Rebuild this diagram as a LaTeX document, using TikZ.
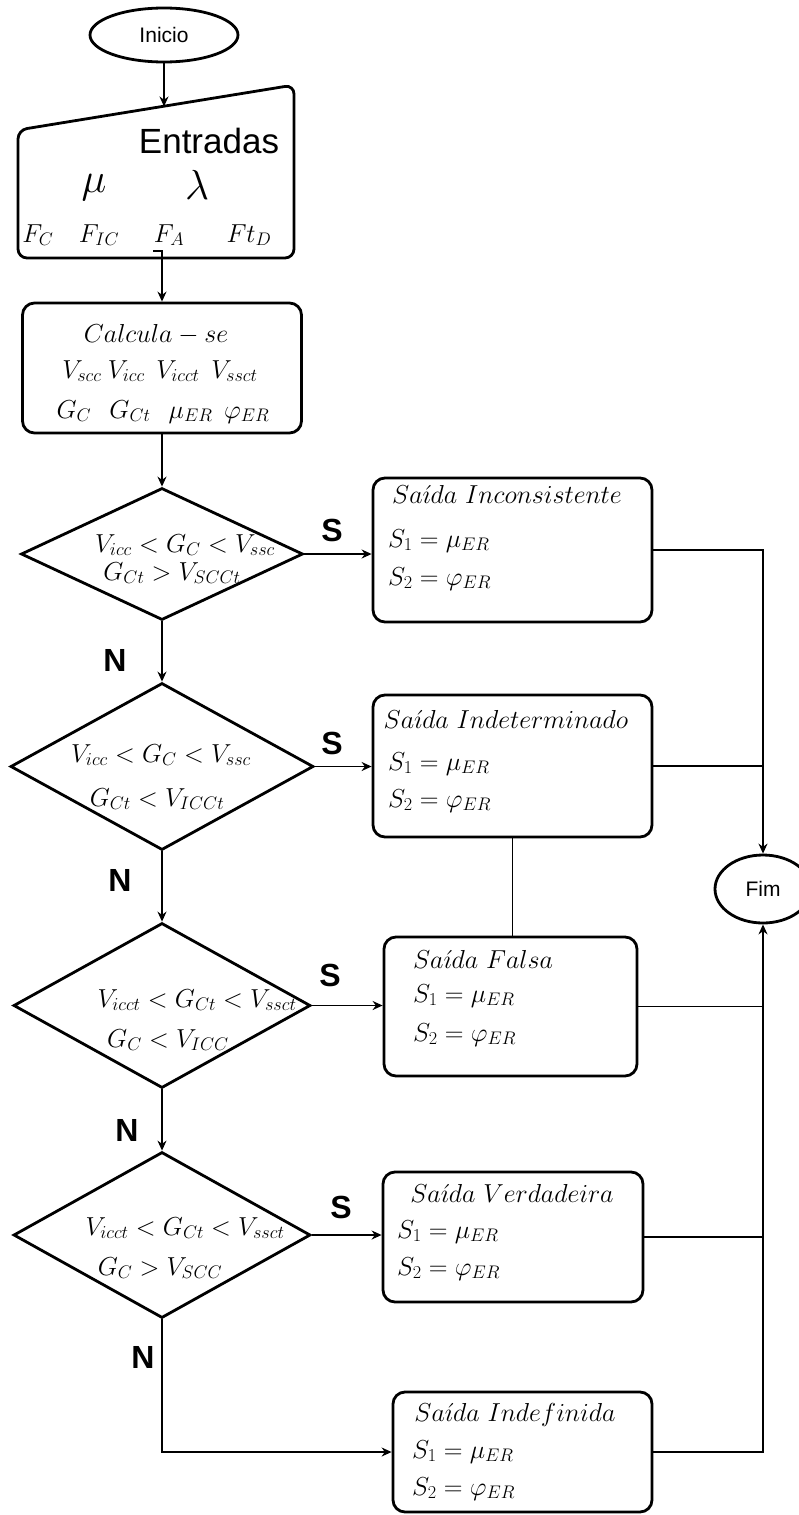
\RequirePackage{fix-cm}
\documentclass[tikz,border=0pt]{standalone}
\usepackage{fontspec}
\newfontfamily\arialf{Liberation Sans}
\usetikzlibrary{shapes.geometric,arrows.meta}
\begin{document}
\begin{tikzpicture}[x=1pt,y=-1pt,
  shp/.style={draw, line width=2.8pt},
  term/.style={shp, ellipse, inner sep=0pt, font=\arialf\fontsize{21}{24}\selectfont},
  box/.style={shp, rectangle, rounded corners=12pt, inner sep=0pt},
  dec/.style={shp, diamond, inner sep=0pt},
  conn/.style={line width=1.4pt},
  arr/.style={conn, -{Stealth[length=10pt,width=9pt]}},
  mt/.style={inner sep=0pt, anchor=base, font=\fontsize{26}{30}\selectfont},
  mtl/.style={mt, anchor=base west},
  yn/.style={font=\arialf\bfseries\fontsize{32}{36}\selectfont, inner sep=0pt}
]
\useasboundingbox (0,0) rectangle (799,1515);

% start
\node[term, minimum width=148pt, minimum height=54pt] (ini) at (164,35) {Inicio};

% inputs (manual input shape)
\draw[shp, rounded corners=9pt] (156,258) -- (18,258) -- (18,130) -- (294,85) -- (294,258) -- cycle;
\coordinate (entTop) at (164,106.5);
\coordinate (entHook) at (153,251);
\coordinate (entBot) at (162,251);
\node[inner sep=0pt, anchor=base, font=\arialf\fontsize{35}{40}\selectfont] (entlbl) at (209,153) {Entradas};
\node[mt, font=\fontsize{42}{46}\selectfont] (mu) at (94,192) {$\mu$};
\node[mt, font=\fontsize{42}{46}\selectfont] (lam) at (197,199) {$\lambda$};
\node[mt] (fc) at (38,242) {$F_C$};
\node[mt] (fic) at (99,242) {$F_{IC}$};
\node[mt] (fa) at (169,242) {$F_A$};
\node[mt] (ftd) at (249,242) {$Ft_D$};

% calc
\node[box, minimum width=279pt, minimum height=130pt] (calc) at (162,368) {};
\node[mt] (c1) at (156,342) {$Calcula - se$};
\node[mt] (c2) at (160,378) {$V_{scc}\hspace{0.25em}V_{icc}\hspace{0.45em}V_{icct}\hspace{0.45em}V_{ssct}$};
\node[mt] (c3) at (163,418) {$G_C\hspace{0.7em}G_{Ct}\hspace{0.7em}\mu_{ER}\hspace{0.45em}\varphi_{ER}$};

% decisions
\node[dec, minimum width=282pt, minimum height=132pt] (d1) at (162,554) {};
\node[dec, minimum width=303pt, minimum height=167pt] (d2) at (162,766.5) {};
\node[dec, minimum width=297pt, minimum height=165pt] (d3) at (162,1005.5) {};
\node[dec, minimum width=297pt, minimum height=166pt] (d4) at (162,1235) {};

\node[mt] (d1a) at (185,552) {$V_{icc} < G_C < V_{ssc}$};
\node[mt] (d1b) at (172,580) {$G_{Ct} > V_{SCCt}$};
\node[mt] (d2a) at (161,762) {$V_{icc} < G_C < V_{ssc}$};
\node[mt] (d2b) at (157,806) {$G_{Ct} < V_{ICCt}$};
\node[mt] (d3a) at (197,1007) {$V_{icct} < G_{Ct} < V_{ssct}$};
\node[mt] (d3b) at (168,1047) {$G_C < V_{ICC}$};
\node[mt] (d4a) at (185,1235) {$V_{icct} < G_{Ct} < V_{ssct}$};
\node[mt] (d4b) at (160,1275) {$G_C > V_{SCC}$};

% outputs
\node[box, minimum width=279pt, minimum height=144pt] (b1) at (512.5,550) {};
\node[box, minimum width=279pt, minimum height=142pt] (b2) at (512.5,766) {};
\node[box, minimum width=253pt, minimum height=139pt] (b3) at (510.5,1006.5) {};
\node[box, minimum width=260pt, minimum height=130pt] (b4) at (513,1237) {};
\node[box, minimum width=259pt, minimum height=120pt] (b5) at (522.5,1452) {};

\node[mt] (t1) at (507,503) {$Sa\acute{\imath}da\ Inconsistente$};
\node[mtl] (s11) at (388,547) {$S_1 = \mu_{ER}$};
\node[mtl] (s12) at (388,585) {$S_2 = \varphi_{ER}$};
\node[mt] (t2) at (506,728) {$Sa\acute{\imath}da\ Indeterminado$};
\node[mtl] (s21) at (388,770) {$S_1 = \mu_{ER}$};
\node[mtl] (s22) at (388,807) {$S_2 = \varphi_{ER}$};
\node[mt] (t3) at (483,968) {$Sa\acute{\imath}da\ Falsa$};
\node[mtl] (s31) at (413,1002) {$S_1 = \mu_{ER}$};
\node[mtl] (s32) at (413,1041) {$S_2 = \varphi_{ER}$};
\node[mt] (t4) at (512,1202) {$Sa\acute{\imath}da\ Verdadeira$};
\node[mtl] (s41) at (397,1238) {$S_1 = \mu_{ER}$};
\node[mtl] (s42) at (397,1275) {$S_2 = \varphi_{ER}$};
\node[mt] (t5) at (515,1421) {$Sa\acute{\imath}da\ Indefinida$};
\node[mtl] (s51) at (412,1458) {$S_1 = \mu_{ER}$};
\node[mtl] (s52) at (412,1495) {$S_2 = \varphi_{ER}$};

% end
\node[term, minimum width=96pt, minimum height=68pt] (fim) at (763,889) {Fim};

% labels
\node[yn] (ls1) at (332,530) {S};
\node[yn] (ls2) at (332,743) {S};
\node[yn] (ls3) at (330,975) {S};
\node[yn] (ls4) at (341,1207) {S};
\node[yn] (ln1) at (115,660) {N};
\node[yn] (ln2) at (120,880) {N};
\node[yn] (ln3) at (127,1130) {N};
\node[yn] (ln4) at (143,1357) {N};

% connectors
\draw[arr] (ini.south) -- (entTop);
\draw[arr] (entHook) -- (entBot) -- (entBot |- calc.north);
\draw[arr] (calc.south) -- (d1.north);
\draw[arr] (d1.south) -- (d2.north);
\draw[arr] (d2.south) -- (d3.north);
\draw[arr] (d3.south) -- (d4.north);
\draw[arr] (d1.east) -- (d1.east -| b1.west);
\draw[arr] (d2.east) -- (d2.east -| b2.west);
\draw[arr] (d3.east) -- (d3.east -| b3.west);
\draw[arr] (d4.east) -- (d4.east -| b4.west);
\draw[arr] (d4.south) |- (b5.west);
\draw[arr] (b1.east) -| (fim.north);
\draw[conn] (b2.east) -- (b2.east -| fim.north);
\draw[conn] (b2.south) -- (b2.south |- b3.north);
\draw[conn] (b3.east) -- (b3.east -| fim.south);
\draw[conn] (b4.east) -- (b4.east -| fim.south);
\draw[arr] (b5.east) -| (fim.south);
\end{tikzpicture}
\end{document}
